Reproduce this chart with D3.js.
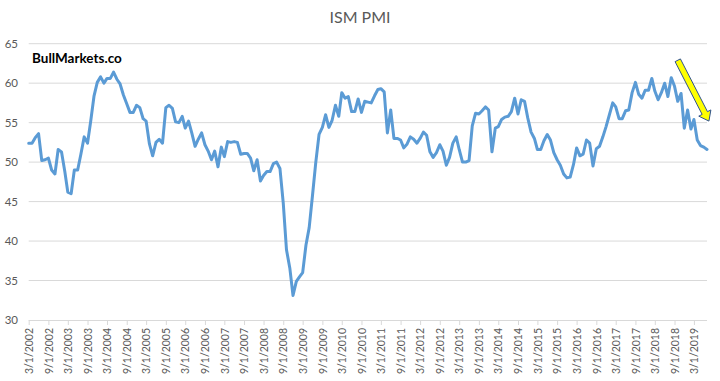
<!DOCTYPE html>
<html><head><meta charset="utf-8">
<script src="https://cdn.jsdelivr.net/npm/d3@7"></script>
<style>html,body{margin:0;padding:0;background:#fff;}svg{display:block;}</style>
</head><body><svg id="c" width="720" height="381"></svg>
<script>
const title = "ISM PMI";
const watermark = "BullMarkets.co";
const startMonth = "2002-03-01";
const yTicks = [30, 35, 40, 45, 50, 55, 60, 65];
// ISM PMI monthly values, Mar 2002 .. Jul 2019
const pmi = [
 52.4,52.4,53.1,53.6,50.2,50.3,50.5,49.0,48.5,51.6,
 51.3,48.8,46.2,46.0,49.0,49.0,51.0,53.2,52.4,55.2,58.4,60.1,
 60.8,60.0,60.6,60.6,61.4,60.5,59.9,58.5,57.4,56.3,56.3,57.2,
 56.9,55.5,55.2,52.3,50.8,52.5,52.9,52.4,56.9,57.2,56.8,55.1,
 55.0,55.8,54.3,55.2,53.7,52.0,52.9,53.7,52.2,51.4,50.3,51.4,
 49.4,51.9,50.7,52.6,52.5,52.6,52.5,51.0,51.1,51.1,50.5,48.9,
 50.3,47.6,48.3,48.8,48.8,49.8,50.0,49.2,44.8,38.9,36.6,33.1,
 34.9,35.5,36.0,39.5,41.7,45.8,49.9,53.5,54.4,56.0,54.4,55.3,
 57.2,55.8,58.8,58.1,58.3,56.4,56.4,58.0,56.3,57.7,57.6,57.5,
 58.4,59.2,59.3,58.9,53.7,56.6,53.0,53.0,52.8,51.8,52.3,53.2,
 52.9,52.4,53.0,53.8,53.4,51.3,50.6,51.2,52.2,51.4,49.6,50.6,
 52.4,53.2,51.6,50.0,50.0,50.2,54.6,56.2,56.1,56.5,57.0,56.6,
 51.3,54.3,54.5,55.4,55.7,55.8,56.4,58.1,56.1,57.9,57.7,55.6,
 53.8,53.0,51.6,51.6,52.7,53.5,52.8,51.2,50.3,49.6,48.5,48.0,
 48.1,49.7,51.8,50.8,51.0,52.8,52.4,49.5,51.7,52.0,53.2,54.5,
 56.0,57.5,57.0,55.5,55.5,56.5,56.6,58.8,60.1,58.6,58.1,59.1,
 59.1,60.6,59.0,57.9,58.8,60.0,58.3,60.7,59.6,57.7,58.7,54.3,
 56.6,54.2,55.4,52.8,52.1,51.9,51.6
];
// arrow annotation (start / end as date + value)
const arrowFrom = {date: "2018-10-01", value: 62.9};
const arrowTo = {date: "2019-07-19", value: 55.2};

const parse = d3.timeParse("%Y-%m-%d");
const t0 = parse(startMonth);
const data = pmi.map((v, i) => ({date: d3.timeMonth.offset(t0, i), value: v}));

const svg = d3.select("#c");
const m = {l: 28.7, r: 707, t: 43.7, b: 320};
const x = d3.scaleTime().domain(d3.extent(data, d => d.date)).range([m.l, m.r]);
const y = d3.scaleLinear().domain([30, 65]).range([m.b, m.t]);
const font = "Lato, 'Open Sans', sans-serif";

// gridlines
svg.append("g").selectAll("line").data(yTicks.slice(1)).join("line")
  .attr("x1", m.l).attr("x2", m.r).attr("y1", d => y(d)).attr("y2", d => y(d))
  .attr("stroke", "#d9d9d9").attr("stroke-width", 1);

// y labels
svg.append("g").selectAll("text").data(yTicks).join("text")
  .attr("x", 18).attr("y", d => y(d)).attr("dy", "0.35em")
  .attr("text-anchor", "end").attr("fill", "#595959")
  .style("font-family", font).style("font-size", "11.5px").text(d => d);

// x axis
const tickDates = d3.timeMonth.range(t0, d3.timeDay.offset(data[data.length-1].date, 1), 6);
const xAxis = d3.axisBottom(x).tickValues(tickDates).tickSize(5).tickSizeOuter(0)
  .tickFormat(d3.timeFormat("%-m/%-d/%Y"));
const gx = svg.append("g").attr("transform", `translate(0,${m.b})`).call(xAxis);
gx.select(".domain").attr("stroke", "#d9d9d9").attr("d", `M${m.l},0.5H${m.r}`);
gx.selectAll(".tick line").attr("stroke", "#d9d9d9");
gx.selectAll(".tick text")
  .attr("transform", "rotate(-90)").attr("text-anchor", "end")
  .attr("x", -8).attr("y", 0).attr("dy", "0.35em")
  .attr("fill", "#595959").style("font-family", font).style("font-size", "10.5px");

// line
const line = d3.line().x(d => x(d.date)).y(d => y(d.value));
svg.append("path").datum(data).attr("d", line)
  .attr("fill", "none").attr("stroke", "#5b9bd5").attr("stroke-width", 3)
  .attr("stroke-linejoin", "round").attr("stroke-linecap", "round");

// title
svg.append("text").attr("x", 360).attr("y", 23).attr("text-anchor", "middle")
  .attr("fill", "#595959").style("font-family", font).style("font-size", "16px").text(title);

// watermark
svg.append("text").attr("x", 32).attr("y", 63).attr("fill", "#000")
  .style("font-family", font).style("font-weight", "bold").style("font-size", "13.5px").text(watermark);

// arrow
const ax0 = x(parse(arrowFrom.date)), ay0 = y(arrowFrom.value);
const ax1 = x(parse(arrowTo.date)), ay1 = y(arrowTo.value);
const dx = ax1 - ax0, dy = ay1 - ay0, len = Math.hypot(dx, dy);
const ux = dx / len, uy = dy / len, px = -uy, py = ux;
const sw = 3, hw = 6.8, hl = 9;
const bx = ax1 - ux * hl, by = ay1 - uy * hl;
const pts = [
  [ax0 + px*sw, ay0 + py*sw], [bx + px*sw, by + py*sw], [bx + px*hw, by + py*hw],
  [ax1, ay1], [bx - px*hw, by - py*hw], [bx - px*sw, by - py*sw], [ax0 - px*sw, ay0 - py*sw]
];
svg.append("path").attr("d", "M" + pts.map(p => p.join(",")).join("L") + "Z")
  .attr("fill", "#ffff00").attr("stroke", "#2f528f").attr("stroke-width", 1)
  .attr("stroke-linejoin", "miter");
</script></body></html>
